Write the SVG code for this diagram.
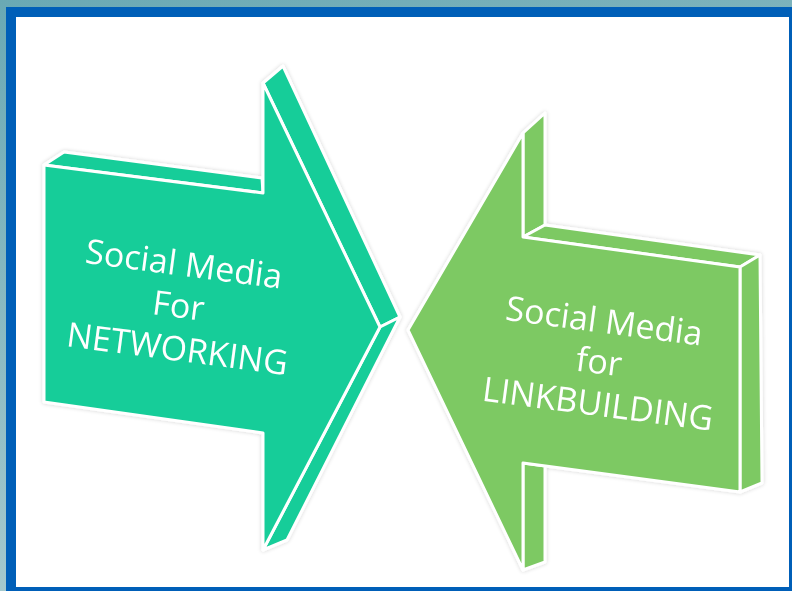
<svg xmlns="http://www.w3.org/2000/svg" width="792" height="591" viewBox="0 0 792 591">
  <defs>
    <linearGradient id="tealBg" x1="0" y1="0" x2="0.3" y2="1">
      <stop offset="0" stop-color="#6aa9b4"/>
      <stop offset="1" stop-color="#a9cbcf"/>
    </linearGradient>
    <filter id="glow" x="-10%" y="-10%" width="120%" height="120%">
      <feGaussianBlur in="SourceAlpha" stdDeviation="2"/>
      <feComponentTransfer><feFuncA type="linear" slope="0.18"/></feComponentTransfer>
      <feMerge><feMergeNode/><feMergeNode in="SourceGraphic"/></feMerge>
    </filter>
  </defs>
  <style>
    .teal { fill: #17cd99; stroke: #ffffff; stroke-width: 3; stroke-linejoin: round; }
    .green { fill: #7dc964; stroke: #ffffff; stroke-width: 3; stroke-linejoin: round; }
    .label { font-family: "Open Sans", "Liberation Sans", sans-serif; font-size: 34px; fill: #ffffff; text-anchor: middle; }
  </style>

  <!-- frame -->
  <rect x="0" y="0" width="792" height="591" fill="url(#tealBg)"/>
  <rect x="6" y="7" width="786" height="584" fill="#005fb8"/>
  <rect x="16" y="17" width="773" height="570" fill="#ffffff"/>

  <g id="arrow-networking" filter="url(#glow)">
    <polygon class="teal" points="44,165 64,152 262,178 263,193"/>
    <polygon class="teal" points="263,83 283,66 400,317 380,327"/>
    <polygon class="teal" points="380,327 400,317 287,540 263,550"/>
    <polygon class="teal" points="44,165 263,193 263,83 380,327 263,550 263,433 44,402"/>
    <text class="label" transform="translate(182,314) rotate(7.5)">
      <tspan x="0" y="-38">Social Media</tspan>
      <tspan x="0" y="4">For</tspan>
      <tspan x="0" y="47">NETWORKING</tspan>
    </text>
  </g>

  <g id="arrow-linkbuilding" filter="url(#glow)">
    <polygon class="green" points="523,133 545,113 545,225 523,237"/>
    <polygon class="green" points="523,237 545,225 760,255 740,267"/>
    <polygon class="green" points="740,267 760,255 762,483 740,492"/>
    <polygon class="green" points="523,463 545,466 545,562 523,570"/>
    <polygon class="green" points="408,330 523,133 523,237 740,267 740,492 523,463 523,570"/>
    <text class="label" transform="translate(602,373) rotate(7.5)">
      <tspan x="0" y="-40">Social Media</tspan>
      <tspan x="0" y="1">for</tspan>
      <tspan x="0" y="43">LINKBUILDING</tspan>
    </text>
  </g>

  <g id="connectors"/>
</svg>
